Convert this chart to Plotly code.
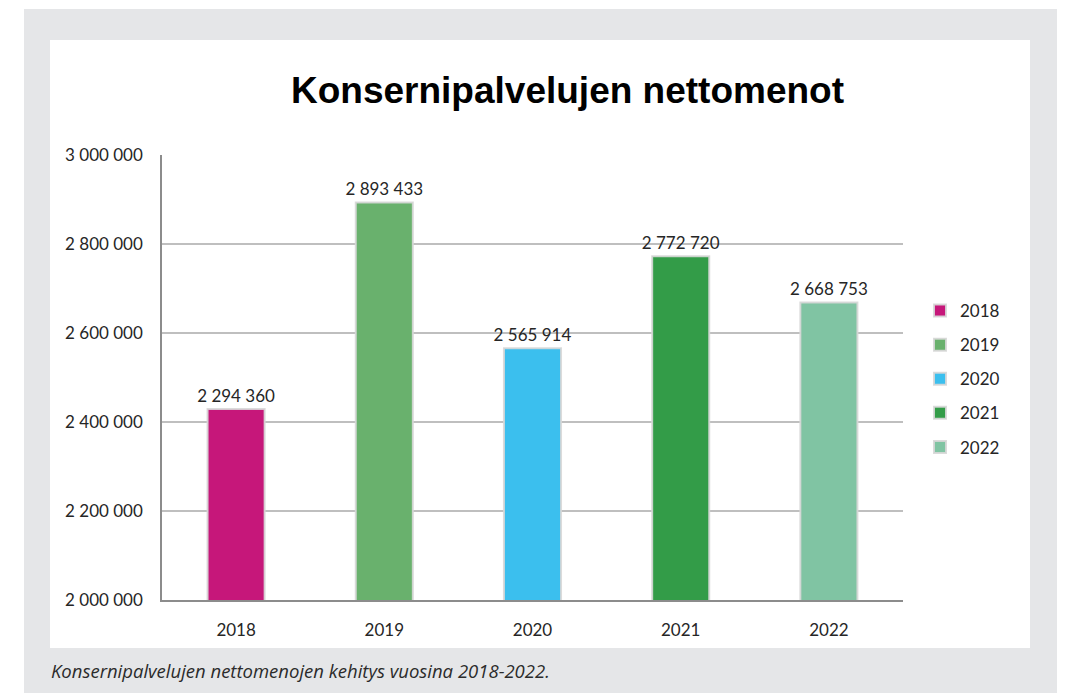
"""
Konsernipalvelujen nettomenot 2018-2022, pylväskaavio Plotlyllä.
"""

import plotly.graph_objects as go

YEARS = ["2018", "2019", "2020", "2021", "2022"]
# pylväiden korkeudet kuvasta luettuna
BAR_VALUES = [2429000, 2893433, 2565914, 2772720, 2668753]
# pylväiden päällä olevat tekstit
BAR_LABELS = ["2 294 360", "2 893 433", "2 565 914", "2 772 720", "2 668 753"]
BAR_COLORS = ["#C6177A", "#69B16D", "#3BBFEE", "#339C48", "#80C4A3"]

Y_TICKS = [2000000, 2200000, 2400000, 2600000, 2800000, 3000000]
Y_TICK_TEXT = ["2 000 000", "2 200 000", "2 400 000", "2 600 000", "2 800 000", "3 000 000"]

TITLE = "Konsernipalvelujen nettomenot"
CAPTION = "Konsernipalvelujen nettomenojen kehitys vuosina 2018-2022."

OFF = 8  # sivun oletusreunus
W, H = 1065 - OFF, 693 - OFF
# piirtoalueen reunat sivun pikseleinä
L, R, T, B = 162, 903, 155, 600
GRAY = "#E5E6E8"


def px_x(x):
    return (x - L) / (R - L)


def px_y(y):
    return (B - y) / (B - T)


fig = go.Figure()
for year, val, lab, col in zip(YEARS, BAR_VALUES, BAR_LABELS, BAR_COLORS):
    fig.add_trace(go.Bar(
        x=[year],
        y=[val],
        name=year,
        legendgroup=year,
        text=[lab],
        textposition="outside",
        constraintext="none",
        cliponaxis=False,
        textfont=dict(size=17, color="#262626", family="Lato"),
        marker=dict(color=col, line=dict(color="rgba(215,215,215,0.9)", width=2)),
    ))

# valkoiset reunat vasemmalla ja ylhäällä, valkoinen kaaviopohja
fig.add_shape(type="rect", xref="paper", yref="paper", layer="below",
              x0=px_x(0), x1=px_x(1075), y0=px_y(9), y1=px_y(0),
              fillcolor="white", line=dict(width=0))
fig.add_shape(type="rect", xref="paper", yref="paper", layer="below",
              x0=px_x(0), x1=px_x(24), y0=px_y(703), y1=px_y(0),
              fillcolor="white", line=dict(width=0))
fig.add_shape(type="rect", xref="paper", yref="paper", layer="below",
              x0=px_x(50), x1=px_x(1030), y0=px_y(648), y1=px_y(40),
              fillcolor="white", line=dict(width=0))

fig.add_annotation(text=f"<b>{TITLE}</b>", xref="paper", yref="paper",
                   x=px_x(567), y=px_y(91), xanchor="center", yanchor="middle",
                   showarrow=False,
                   font=dict(size=37, color="black", family="Liberation Sans"))
fig.add_annotation(text=f"<i>{CAPTION}</i>", xref="paper", yref="paper",
                   x=px_x(49), y=px_y(670), xanchor="left", yanchor="middle",
                   showarrow=False,
                   font=dict(size=18.5, color="#2b2b2b", family="Open Sans"))

fig.update_layout(
    width=W, height=H,
    margin=dict(l=L - OFF, r=1065 - R, t=T - OFF, b=693 - B, pad=0),
    paper_bgcolor=GRAY,
    plot_bgcolor="white",
    barmode="overlay",
    bargap=0.615,
    font=dict(family="Lato", size=17, color="#262626"),
    showlegend=True,
    legend=dict(x=px_x(920), y=px_y(293), xanchor="left", yanchor="top",
                font=dict(size=17, color="#262626"), tracegroupgap=9,
                bgcolor="rgba(0,0,0,0)"),
    xaxis=dict(type="category", showline=True, linecolor="#8C8C8C", linewidth=1.5,
               ticks="", showgrid=False, ticklabelstandoff=14),
    yaxis=dict(range=[2000000, 3000000], tickvals=Y_TICKS, ticktext=Y_TICK_TEXT,
               showgrid=True, gridcolor="#BFBFBF", gridwidth=1.5,
               showline=True, linecolor="#8C8C8C", linewidth=1.5,
               ticks="", zeroline=False, ticklabelstandoff=14),
)

fig.write_html("out.html")
